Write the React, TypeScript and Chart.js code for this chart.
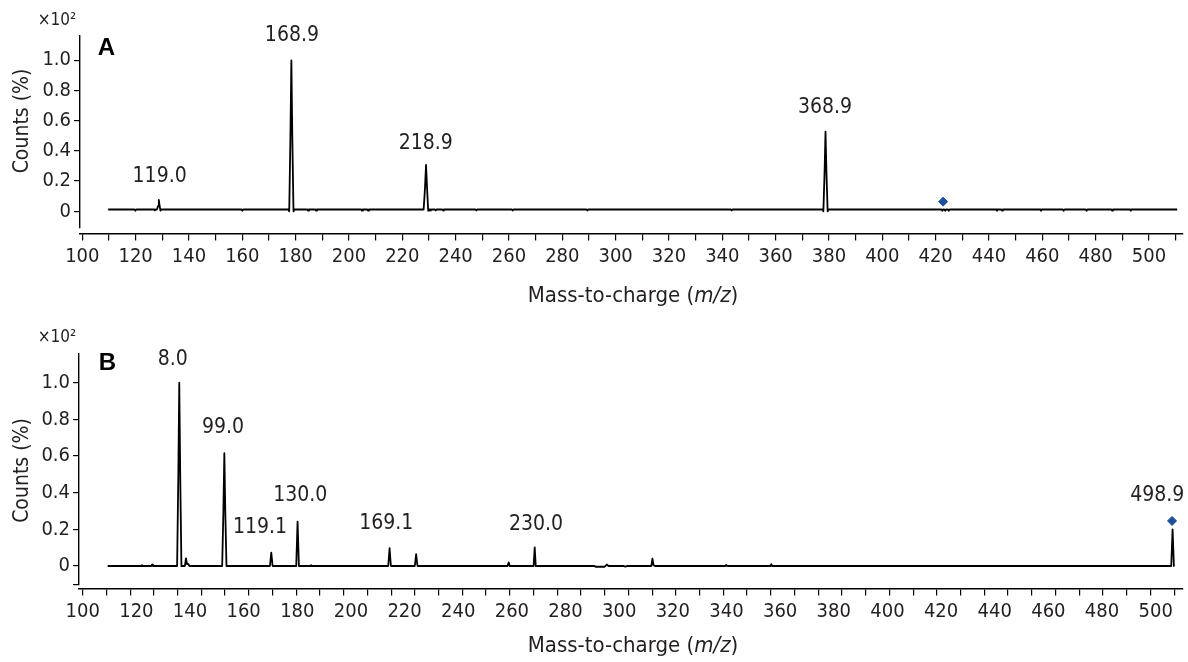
import React, { useEffect, useRef } from 'react';
import { Chart, registerables } from 'chart.js';

Chart.register(...registerables);

const FONT = '"DejaVu Sans Condensed", "Liberation Sans Narrow", Roboto, sans-serif';
const BOLD_FONT = '"Liberation Sans", Arial, sans-serif';
const TEXT = '#231f20';
const MARKER = '#1f4e9c';

// ---------- Panel A data ----------
const mzA = [
  109.7,
  119.6, 119.9, 120.2,
  126.9, 127.2, 127.5,
  128.0, 128.4, 128.7, 129.0, 129.3, 129.6,
  159.7, 160.0, 160.3,
  177.3, 177.6, 178.05, 178.4, 178.75, 179.2, 179.5,
  184.4, 184.7, 185.0,
  187.4, 187.7, 188.0,
  204.6, 204.9, 205.2,
  206.9, 207.2, 207.5,
  228.0, 228.5, 228.9, 229.3, 229.7, 230.0,
  230.4, 230.7, 231.0,
  232.2, 232.5, 232.8,
  235.0, 235.3, 235.6,
  247.5, 247.8, 248.1,
  261.1, 261.4, 261.7,
  289.1, 289.4, 289.7,
  343.2, 343.5, 343.8,
  377.6, 377.9, 378.35, 378.7, 379.05, 379.5, 379.8,
  422.2, 422.5, 422.8, 423.3, 423.6, 423.9, 424.6, 424.9, 425.2,
  442.7, 443.0, 443.3,
  444.6, 444.9, 445.2,
  459.2, 459.5, 459.8,
  467.7, 468.0, 468.3,
  476.3, 476.6, 476.9,
  485.9, 486.2, 486.5,
  492.9, 493.2, 493.5,
  510.6,
];
const intA = [
  0.012,
  0.012, 0.003, 0.012,
  0.012, 0.006, 0.012,
  0.012, 0.035, 0.075, 0.035, 0.004, 0.012,
  0.012, 0.004, 0.012,
  0.012, 0.0, 0.5, 1.0, 0.5, 0.0, 0.012,
  0.012, 0.004, 0.012,
  0.012, 0.004, 0.012,
  0.012, 0.004, 0.012,
  0.012, 0.004, 0.012,
  0.012, 0.15, 0.307, 0.15, 0.004, 0.012,
  0.012, 0.005, 0.012,
  0.012, 0.005, 0.012,
  0.012, 0.005, 0.012,
  0.012, 0.005, 0.012,
  0.012, 0.005, 0.012,
  0.012, 0.005, 0.012,
  0.012, 0.005, 0.012,
  0.012, 0.0, 0.26, 0.527, 0.26, 0.0, 0.012,
  0.012, 0.004, 0.012, 0.012, 0.004, 0.012, 0.012, 0.004, 0.012,
  0.012, 0.004, 0.012,
  0.012, 0.004, 0.012,
  0.012, 0.004, 0.012,
  0.012, 0.004, 0.012,
  0.012, 0.004, 0.012,
  0.012, 0.004, 0.012,
  0.012, 0.004, 0.012,
  0.012,
];
const peakTextA = ['119.0', '168.9', '218.9', '368.9'];
const peakMzA = [129.0, 178.6, 228.8, 378.5];
const peakIntA = [0.227, 1.161, 0.45, 0.687];
const markerMzA = [422.8];
const markerIntA = [0.064];

// ---------- Panel B data ----------
const mzB = [
  109.3,
  121.8, 122.1, 122.4,
  125.6, 125.9, 126.2,
  135.2, 135.65, 136.0, 136.35, 136.8,
  138.1, 138.5, 138.9, 139.3, 139.8,
  152.0, 152.45, 152.8, 153.15, 153.6,
  169.8, 170.3, 170.8,
  179.6, 180.1, 180.6,
  184.8, 185.1, 185.4,
  213.9, 214.4, 214.9,
  223.8, 224.3, 224.8,
  258.4, 258.8, 259.2,
  268.1, 268.5, 268.9,
  290.8, 291.2, 294.6, 295.4, 296.0,
  301.5, 302.3, 303.1,
  312.0, 312.4, 312.8, 313.3,
  339.6, 339.9, 340.2,
  356.4, 356.7, 357.0,
  505.8, 506.3, 506.8,
  507.0,
];
const intB = [
  0.0,
  0.0, 0.004, 0.0,
  0.0, 0.008, 0.0,
  0.0, 0.5, 1.0, 0.5, 0.0,
  0.0, 0.042, 0.01, 0.012, 0.0,
  0.0, 0.3, 0.615, 0.3, 0.0,
  0.0, 0.073, 0.0,
  0.0, 0.242, 0.0,
  0.0, 0.004, 0.0,
  0.0, 0.097, 0.0,
  0.0, 0.064, 0.0,
  0.0, 0.02, 0.0,
  0.0, 0.102, 0.0,
  0.0, -0.004, -0.004, 0.008, 0.0,
  0.0, -0.003, 0.0,
  0.0, 0.04, 0.005, 0.0,
  0.0, 0.006, 0.0,
  0.0, 0.01, 0.0,
  0.0, 0.2, 0.0,
  0.0,
];
const peakTextB = ['8.0', '99.0', '119.1', '130.0', '169.1', '230.0', '498.9'];
const peakMzB = [133.6, 152.3, 166.1, 181.1, 213.2, 269.0, 500.6];
const peakIntB = [1.124, 0.753, 0.21, 0.383, 0.229, 0.224, 0.383];
const markerMzB = [506.1];
const markerIntB = [0.246];

// ---------- Axis tick values ----------
const yTicksA = [0, 0.2, 0.4, 0.6, 0.8, 1.0];
const yTicksB = [-0.1, 0, 0.2, 0.4, 0.6, 0.8, 1.0];
const xLabelValues = [100, 120, 140, 160, 180, 200, 220, 240, 260, 280, 300, 320, 340, 360, 380, 400, 420, 440, 460, 480, 500];
const xMarksA = [100, 110, 120, 130, 140, 150, 160, 170, 180, 190, 200, 210, 220, 230, 240, 250, 260, 270, 280, 290, 300, 310, 320, 330, 340, 350, 360, 370, 380, 390, 400, 410, 420, 430, 440, 450, 460, 470, 480, 490, 500, 510];
const B_MARK_STEP = 8.845;
const B_MARK_COUNT = 47;

type Spec = {
  height: number;
  mz: number[];
  inten: number[];
  peakText: string[];
  peakMz: number[];
  peakInt: number[];
  markerMz: number[];
  markerInt: number[];
  xMin: number;
  xMax: number;
  yMin: number;
  yMax: number;
  xAxisAt: number;
  yWidth: number;
  padTop: number;
  padBottom: number;
  padRight: number;
  yTicks: number[];
  xTicks: { value: number; mark: boolean }[];
  letter: string;
  letterPos: [number, number];
  expPos: [number, number];
  yTitlePos: [number, number];
  xTitlePos: [number, number];
};

function buildXTicksA() {
  return xMarksA.map((v) => ({ value: v, mark: true }));
}
function buildXTicksB() {
  const marks = Array.from({ length: B_MARK_COUNT }, (_, k) => 100 + k * B_MARK_STEP);
  const list: { value: number; mark: boolean }[] = [];
  marks.forEach((v) => list.push({ value: v, mark: true }));
  xLabelValues.forEach((v) => {
    if (!marks.some((m) => Math.abs(m - v) < 1e-6)) list.push({ value: v, mark: false });
  });
  list.sort((a, b) => a.value - b.value);
  return list;
}

const specA: Spec = {
  height: 315,
  mz: mzA,
  inten: intA,
  peakText: peakTextA,
  peakMz: peakMzA,
  peakInt: peakIntA,
  markerMz: markerMzA,
  markerInt: markerIntA,
  xMin: 99.14,
  xMax: 512.57,
  yMin: -0.1106,
  yMax: 1.1609,
  xAxisAt: -0.1457,
  yWidth: 80,
  padTop: 36,
  padBottom: 87,
  padRight: 0,
  yTicks: yTicksA,
  xTicks: buildXTicksA(),
  letter: 'A',
  letterPos: [106.5, 48.5],
  expPos: [57, 21],
  yTitlePos: [23, 121],
  xTitlePos: [633, 296],
};

const specB: Spec = {
  height: 347,
  mz: mzB,
  inten: intB,
  peakText: peakTextB,
  peakMz: peakMzB,
  peakInt: peakIntB,
  markerMz: markerMzB,
  markerInt: markerIntB,
  xMin: 98.62,
  xMax: 510.0,
  yMin: -0.1037,
  yMax: 1.1604,
  xAxisAt: -0.1217,
  yWidth: 79,
  padTop: 38.3,
  padBottom: 77,
  padRight: 5.3,
  yTicks: yTicksB,
  xTicks: buildXTicksB(),
  letter: 'B',
  letterPos: [107.5, 48.5],
  expPos: [57, 23],
  yTitlePos: [23, 155.5],
  xTitlePos: [633, 331],
};

function makeTextPlugin(spec: Spec) {
  return {
    id: 'panelText' + spec.letter,
    afterDraw(chart: any) {
      const ctx: CanvasRenderingContext2D = chart.ctx;
      const xs = chart.scales.x;
      const ys = chart.scales.y;
      ctx.save();
      ctx.fillStyle = TEXT;
      ctx.textAlign = 'center';
      ctx.textBaseline = 'middle';

      ctx.font = `17px ${FONT}`;
      ctx.fillText('×10²', spec.expPos[0], spec.expPos[1]);

      ctx.font = `bold 24px ${BOLD_FONT}`;
      ctx.fillStyle = '#000';
      ctx.fillText(spec.letter, spec.letterPos[0], spec.letterPos[1]);
      ctx.fillStyle = TEXT;

      ctx.save();
      ctx.translate(spec.yTitlePos[0], spec.yTitlePos[1]);
      ctx.rotate(-Math.PI / 2);
      ctx.font = `21px ${FONT}`;
      ctx.fillText('Counts (%)', 0, 0);
      ctx.restore();

      const parts: [string, boolean][] = [
        ['Mass-to-charge (', false],
        ['m/z', true],
        [')', false],
      ];
      const fontFor = (it: boolean) => `${it ? 'italic ' : ''}22px ${FONT}`;
      let total = 0;
      parts.forEach(([t, it]) => {
        ctx.font = fontFor(it);
        total += ctx.measureText(t).width;
      });
      let x = spec.xTitlePos[0] - total / 2;
      ctx.textAlign = 'left';
      parts.forEach(([t, it]) => {
        ctx.font = fontFor(it);
        ctx.fillText(t, x, spec.xTitlePos[1]);
        x += ctx.measureText(t).width;
      });

      ctx.textAlign = 'center';
      ctx.font = `21px ${FONT}`;
      spec.peakText.forEach((t, i) => {
        ctx.fillText(t, xs.getPixelForValue(spec.peakMz[i]), ys.getPixelForValue(spec.peakInt[i]));
      });
      ctx.restore();
    },
  };
}

function buildConfig(spec: Spec): any {
  const tickFont = { family: FONT, size: 20, lineHeight: 1.2 };
  return {
    type: 'line',
    data: {
      datasets: [
        {
          data: spec.mz.map((x, i) => ({ x, y: spec.inten[i] })),
          borderColor: '#000',
          borderWidth: 1.8,
          borderJoinStyle: 'round',
          pointRadius: 0,
          tension: 0,
          fill: false,
        },
        {
          data: spec.markerMz.map((x, i) => ({ x, y: spec.markerInt[i] })),
          showLine: false,
          pointStyle: 'rectRot',
          pointRadius: 4.5,
          pointBackgroundColor: MARKER,
          pointBorderColor: MARKER,
          borderColor: MARKER,
          backgroundColor: MARKER,
        },
      ],
    },
    options: {
      responsive: false,
      animation: false,
      events: [],
      layout: { padding: { top: spec.padTop, left: 0, right: spec.padRight, bottom: spec.padBottom } },
      plugins: { legend: { display: false }, tooltip: { enabled: false } },
      scales: {
        x: {
          type: 'linear',
          min: spec.xMin,
          max: spec.xMax,
          position: { y: spec.xAxisAt },
          afterBuildTicks: (s: any) => {
            s.ticks = spec.xTicks.map((t) => ({ value: t.value, mark: t.mark }));
          },
          grid: {
            drawOnChartArea: false,
            drawTicks: true,
            tickLength: 6,
            lineWidth: 1.2,
            tickColor: (c: any) => (c.tick && c.tick.mark ? '#000' : 'rgba(0,0,0,0)'),
          },
          border: { display: true, color: '#000', width: 1.4 },
          ticks: {
            autoSkip: false,
            maxRotation: 0,
            minRotation: 0,
            padding: 5,
            color: TEXT,
            font: tickFont,
            callback: (v: number) => (xLabelValues.includes(v) ? String(v) : ''),
          },
        },
        y: {
          type: 'linear',
          min: spec.yMin,
          max: spec.yMax,
          position: 'left',
          afterFit: (s: any) => {
            s.width = spec.yWidth;
          },
          afterBuildTicks: (s: any) => {
            s.ticks = spec.yTicks.map((v) => ({ value: v }));
          },
          grid: {
            drawOnChartArea: false,
            drawTicks: true,
            tickLength: 6,
            lineWidth: 1.2,
            tickColor: '#000',
          },
          border: { display: true, color: '#000', width: 1.4 },
          ticks: {
            padding: 3,
            color: TEXT,
            font: tickFont,
            callback: (v: number) => (v < 0 ? '' : v === 0 ? '0' : v.toFixed(1)),
          },
        },
      },
    },
    plugins: [makeTextPlugin(spec)],
  };
}

function Panel({ spec, top }: { spec: Spec; top: number }) {
  const ref = useRef<HTMLCanvasElement>(null);
  useEffect(() => {
    const chart = new Chart(ref.current as HTMLCanvasElement, buildConfig(spec));
    return () => chart.destroy();
  }, [spec]);
  return (
    <canvas
      ref={ref}
      width={1188}
      height={spec.height}
      style={{ position: 'absolute', left: 0, top, width: 1188, height: spec.height, display: 'block' }}
    />
  );
}

export default function App() {
  return (
    <div style={{ position: 'fixed', left: 0, top: 0, width: 1188, height: 662, background: '#fff', overflow: 'hidden' }}>
      <Panel spec={specA} top={0} />
      <Panel spec={specB} top={315} />
    </div>
  );
}
